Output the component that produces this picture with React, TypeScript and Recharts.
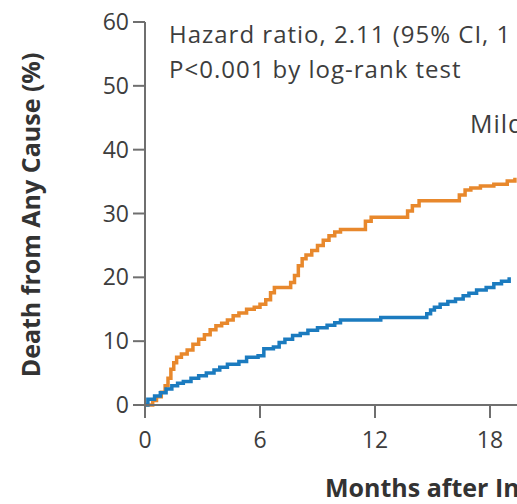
import { LineChart, Line, XAxis, YAxis } from 'recharts';

// Kaplan-Meier steps (months, % dead)
const severeMonths = [0, 0.4, 0.6, 0.85, 1.05, 1.2, 1.35, 1.5, 1.65, 1.9, 2.2, 2.5, 2.8, 3.1, 3.4, 3.7, 4.0, 4.3, 4.6, 4.9, 5.3, 5.7, 6.0, 6.3, 6.55, 6.75, 7.6, 7.8, 8.0, 8.2, 8.4, 8.7, 9.0, 9.3, 9.6, 9.9, 10.2, 11.5, 11.8, 13.7, 13.95, 14.3, 16.4, 16.7, 17.0, 17.5, 18.2, 18.9, 19.3];
const severeDeath = [0, 0.7, 1.3, 2.0, 3.0, 4.2, 5.6, 6.6, 7.5, 8.0, 8.6, 9.5, 10.3, 11.0, 11.8, 12.4, 12.8, 13.3, 14.0, 14.4, 15.0, 15.3, 15.8, 16.5, 17.6, 18.4, 19.2, 20.3, 21.8, 22.9, 23.5, 24.2, 25.0, 25.8, 26.5, 27.1, 27.5, 28.8, 29.4, 30.4, 31.2, 32.0, 32.9, 33.7, 34.0, 34.3, 34.6, 35.1, 35.6];

const milderMonths = [0, 0.15, 0.5, 0.8, 1.1, 1.4, 1.7, 2.0, 2.4, 2.8, 3.2, 3.6, 3.9, 4.3, 4.9, 5.3, 5.9, 6.2, 6.7, 7.0, 7.3, 7.7, 8.1, 8.5, 9.0, 9.5, 9.9, 10.2, 12.3, 14.7, 14.9, 15.1, 15.4, 15.8, 16.2, 16.6, 16.9, 17.3, 17.8, 18.2, 18.6, 19.0];
const milderDeath = [0, 0.9, 1.4, 1.9, 2.5, 3.0, 3.4, 3.7, 4.2, 4.6, 5.0, 5.5, 5.9, 6.4, 6.8, 7.5, 7.7, 8.8, 9.1, 9.8, 10.3, 10.9, 11.2, 11.7, 12.1, 12.5, 12.9, 13.3, 13.7, 14.3, 14.9, 15.3, 15.8, 16.2, 16.6, 17.1, 17.5, 18.0, 18.4, 19.0, 19.4, 20.0];

const monthTicks = [0, 6, 12, 18, 24];
const deathTicks = [0, 10, 20, 30, 40, 50, 60];

const severe = severeMonths.map((m, i) => ({ month: m, death: severeDeath[i] }));
const milder = milderMonths.map((m, i) => ({ month: m, death: milderDeath[i] }));

const FONT = '"Open Sans", sans-serif';
const AXIS = '#6f6f6f';
const TEXT = '#3d3d3d';

export default function App() {
  return (
    <div style={{ position: 'absolute', left: 0, top: 0, width: 517, height: 504, overflow: 'hidden', background: '#fff', fontFamily: FONT }}>
      <LineChart width={620} height={504} margin={{ top: 22, right: 15, bottom: 0, left: 0 }}>
        <XAxis
          type="number"
          dataKey="month"
          domain={[0, 24]}
          ticks={monthTicks}
          allowDataOverflow
          height={99}
          stroke={AXIS}
          strokeWidth={2}
          tickSize={13}
          tickMargin={14}
          tick={{ fill: TEXT, fontSize: 23, fontFamily: FONT }}
          label={{
            content: () => (
              <text x={325} y={497} fill="#333" fontSize={25} fontWeight={700} fontFamily={FONT}>
                Months after Inclusion
              </text>
            ),
          }}
        />
        <YAxis
          type="number"
          dataKey="death"
          domain={[0, 60]}
          ticks={deathTicks}
          width={145}
          stroke={AXIS}
          strokeWidth={2}
          tickSize={12}
          tickMargin={4}
          tick={{ fill: TEXT, fontSize: 23, fontFamily: FONT }}
          label={{
            content: () => (
              <text
                x={40}
                y={215}
                transform="rotate(-90, 40, 215)"
                textAnchor="middle"
                fill="#333"
                fontSize={25}
                fontWeight={700}
                fontFamily={FONT}
              >
                Death from Any Cause (%)
              </text>
            ),
          }}
        />
        <Line data={severe} dataKey="death" type="stepAfter" stroke="#e8882c" strokeWidth={3.5} dot={false} isAnimationActive={false} />
        <Line data={milder} dataKey="death" type="stepAfter" stroke="#1b7bbf" strokeWidth={3.5} dot={false} isAnimationActive={false} />
      </LineChart>
      <div style={{ position: 'absolute', left: 169, top: 16, fontSize: 24, letterSpacing: 1, color: TEXT, whiteSpace: 'nowrap', lineHeight: '35px' }}>
        Hazard ratio, 2.11 (95% CI, 1
        <br />
        P&lt;0.001 by log-rank test
      </div>
      <div style={{ position: 'absolute', left: 470, top: 106, fontSize: 25, letterSpacing: 1, color: TEXT, whiteSpace: 'nowrap' }}>Mild</div>
    </div>
  );
}
